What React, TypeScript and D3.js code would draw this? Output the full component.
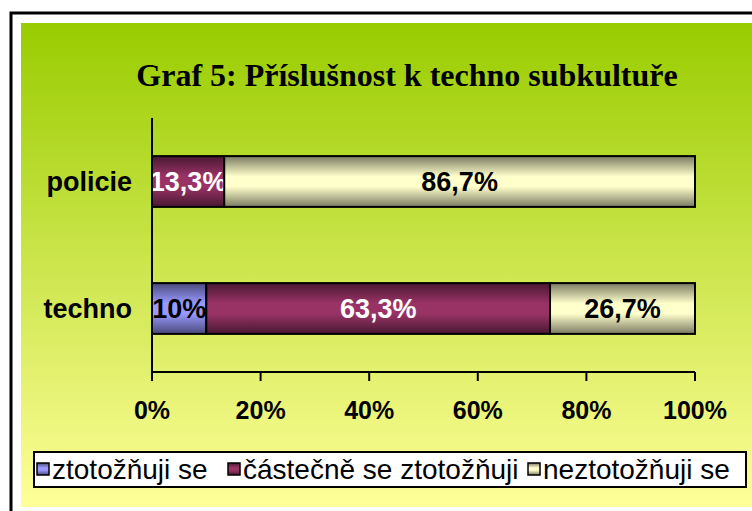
import React, { useEffect } from 'react'
import * as d3 from 'd3'

const categories = ['policie', 'techno']
const seriesNames = ['ztotožňuji se', 'částečně se ztotožňuji', 'neztotožňuji se']
const seriesColors = ['#9999FF', '#993366', '#FFFFCC']
const labelColors = ['#000', '#fff', '#000']
const policieValues = [0, 13.3, 86.7]
const technoValues = [10, 63.3, 26.7]
const tickValues = [0, 20, 40, 60, 80, 100]

const W = 752
const H = 511
const plot = { left: 152, right: 695, top: 118, bottom: 372 }
const sans = 'Arial, "Liberation Sans", sans-serif'

const fmt = (v: number) => `${String(v).replace('.', ',')}%`

const App: React.FC = () => {
  useEffect(() => {
    document.body.style.margin = '0'
  }, [])

  const x = d3.scaleLinear().domain([0, 100]).range([plot.left, plot.right])
  const y = d3
    .scaleBand<string>()
    .domain(categories)
    .range([plot.top, plot.bottom])
    .paddingInner(0.6)
    .paddingOuter(0.3)

  const rows = [policieValues, technoValues]
  const stacked = rows.map((vals) => {
    let acc = 0
    return vals.map((v) => {
      const s = { x0: acc, x1: acc + v, v }
      acc += v
      return s
    })
  })

  const dark = (c: string) => d3.interpolateRgb(c, '#000')(0.52)

  // legend entry x positions
  const legendX = [37, 228, 528]

  return (
    <svg width={W} height={H} style={{ display: 'block' }}>
      <defs>
        <linearGradient id="bg" x1="0" y1="0" x2="0" y2="1">
          <stop offset="0" stopColor="#99CC00" />
          <stop offset="1" stopColor="#FFFF99" />
        </linearGradient>
        {seriesColors.map((c, i) => (
          <linearGradient key={i} id={`g${i}`} x1="0" y1="0" x2="0" y2="1">
            <stop offset="0" stopColor={dark(c)} />
            <stop offset="0.4" stopColor={c} />
            <stop offset="0.6" stopColor={c} />
            <stop offset="1" stopColor={dark(c)} />
          </linearGradient>
        ))}
      </defs>
      <rect x={0} y={0} width={W} height={H} fill="#fff" />
      <rect x={11} y={13} width={W + 20} height={H + 20} fill="none" stroke="#000" strokeWidth={3} />
      <rect x={21} y={23} width={W - 21} height={507 - 23} fill="url(#bg)" />

      <text
        x={407}
        y={86}
        textAnchor="middle"
        fontFamily='"Times New Roman", "Liberation Serif", serif'
        fontWeight="bold"
        fontSize={32}
      >
        Graf 5: Příslušnost k techno subkultuře
      </text>

      {/* bars */}
      {stacked.map((segs, r) =>
        segs.map((s, i) =>
          s.v > 0 ? (
            <g key={`${r}-${i}`}>
              <rect
                x={x(s.x0)}
                y={y(categories[r])!}
                width={x(s.x1) - x(s.x0)}
                height={y.bandwidth()}
                fill={`url(#g${i})`}
                stroke="#000"
                strokeWidth={2}
              />
              <text
                x={(x(s.x0) + x(s.x1)) / 2}
                y={y(categories[r])! + y.bandwidth() / 2}
                dy="0.36em"
                textAnchor="middle"
                fontFamily={sans}
                fontWeight="bold"
                fontSize={27}
                fill={labelColors[i]}
              >
                {fmt(s.v)}
              </text>
            </g>
          ) : null
        )
      )}

      {/* axes */}
      <line x1={plot.left} x2={plot.left} y1={plot.top} y2={plot.bottom} stroke="#000" strokeWidth={2} />
      <line x1={plot.left} x2={plot.right} y1={plot.bottom} y2={plot.bottom} stroke="#000" strokeWidth={2} />
      {tickValues.map((t) => (
        <g key={t}>
          <line x1={x(t)} x2={x(t)} y1={plot.bottom} y2={plot.bottom + 9} stroke="#000" strokeWidth={2} />
          <text
            x={x(t)}
            y={419}
            textAnchor="middle"
            fontFamily={sans}
            fontWeight="bold"
            fontSize={25}
          >
            {t}%
          </text>
        </g>
      ))}
      {categories.map((c) => (
        <text
          key={c}
          x={132}
          y={y(c)! + y.bandwidth() / 2}
          dy="0.36em"
          textAnchor="end"
          fontFamily={sans}
          fontWeight="bold"
          fontSize={27}
        >
          {c}
        </text>
      ))}

      {/* legend */}
      <rect x={34} y={452} width={712} height={35} fill="#fff" stroke="#000" strokeWidth={2} />
      {seriesNames.map((n, i) => (
        <g key={n}>
          <rect
            x={legendX[i]}
            y={463}
            width={12}
            height={12}
            fill={`url(#g${i})`}
            stroke="#000"
            strokeWidth={1.5}
          />
          <text x={legendX[i] + 15} y={479} fontFamily={sans} fontSize={28}>
            {n}
          </text>
        </g>
      ))}
    </svg>
  )
}

export default App
